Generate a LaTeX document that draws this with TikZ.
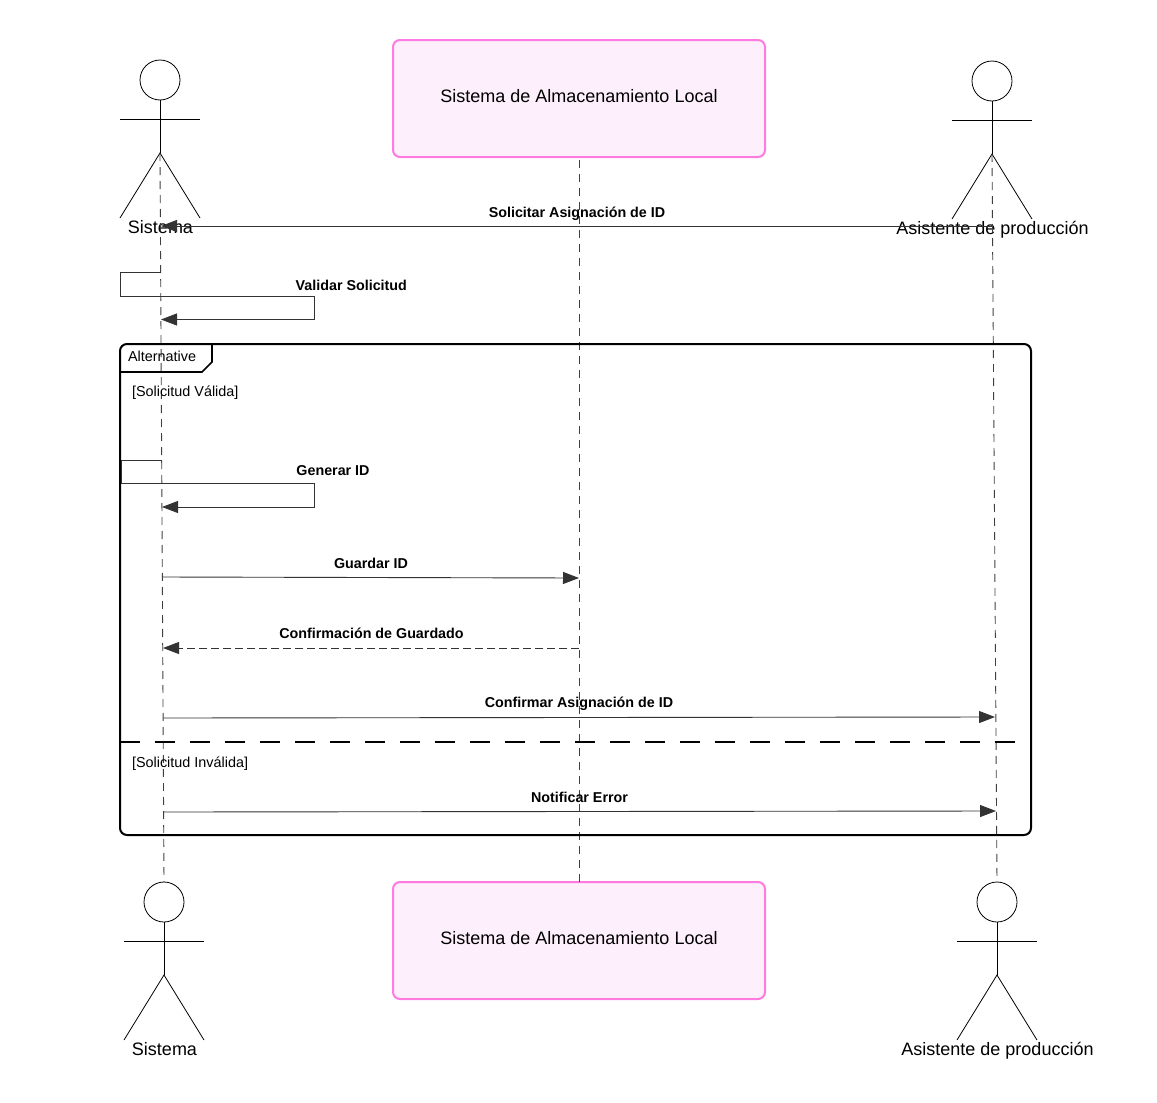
\documentclass[tikz,border=0pt]{standalone}
\usepackage{fontspec}
\setmainfont{Liberation Sans}
\usetikzlibrary{arrows.meta}
\definecolor{ink}{HTML}{333333}
\definecolor{pinkline}{HTML}{FF7BE0}
\definecolor{pinkfill}{HTML}{FDEFFB}
\tikzset{
  x=1pt,y=-1pt,
  every node/.style={inner sep=0pt,outer sep=0pt},
  stick/.style={draw=black,line width=0.8pt},
  head/.style={circle,draw=black,line width=0.8pt,minimum size=40pt},
  actorlabel/.style={font=\fontsize{18}{20}\selectfont,text=black},
  partbox/.style={draw=pinkline,fill=pinkfill,line width=2pt,rounded corners=7pt,minimum width=372pt,minimum height=117pt,font=\fontsize{18}{20}\selectfont},
  lifeline/.style={draw=black!75,line width=0.9pt,dash pattern=on 8pt off 6pt},
  msg/.style={draw=ink,line width=0.9pt,-{Triangle[length=16pt,width=12pt,fill=ink]}},
  msgdash/.style={msg,dash pattern=on 8pt off 4pt},
  msglabel/.style={font=\fontsize{14.3}{16}\selectfont\bfseries,text=black},
  framelabel/.style={font=\fontsize{14.4}{16}\selectfont,text=black},
  frameline/.style={draw=black,line width=2pt},
}
% name, x of centre, y of head centre, label, y of label
\newcommand{\stickfigure}[5]{%
  \node[head] (#1h) at (#2,#3) {};
  \coordinate (#1n) at (#2,#3+39);
  \coordinate (#1a) at (#2-40,#3+39);
  \coordinate (#1b) at (#2+40,#3+39);
  \coordinate (#1w) at (#2,#3+73);
  \coordinate (#1l) at (#2-40,#3+138);
  \coordinate (#1r) at (#2+40,#3+138);
  \draw[stick] (#1h.south) -- (#1w);
  \draw[stick] (#1a) -- (#1b);
  \draw[stick] (#1l) -- (#1w) -- (#1r);
  \node[actorlabel] (#1t) at (#2+0.5,#5) {#4};
}
\begin{document}
\begin{tikzpicture}
\useasboundingbox (0,0) rectangle (1157,1103);
\node[partbox] (boxtop) at (579,98.5) {\raisebox{-3.6pt}[0pt][0pt]{Sistema de Almacenamiento Local}};
\node[partbox] (boxbot) at (579,940.5) {\raisebox{-3.6pt}[0pt][0pt]{Sistema de Almacenamiento Local}};
\stickfigure{st}{160}{80}{Sistema}{227}
\stickfigure{at}{992}{81}{Asistente de producción}{229.5}
\stickfigure{sb}{164}{902}{Sistema}{1049}
\stickfigure{ab}{997}{902}{Asistente de producción}{1050.5}
\draw[lifeline] (stw) -- (sbh.north);
\draw[lifeline] (atw) -- (abh.north);
\draw[lifeline,dash phase=11pt] (boxtop.south) -- (boxbot.north);
% frame
\draw[frameline,rounded corners=7pt] (120,344) rectangle (1031,835);
\coordinate (tabA) at (120,372);
\coordinate (tabB) at (202,372);
\coordinate (tabC) at (212,362);
\coordinate (tabD) at (212,344);
\draw[frameline,line width=1.6pt] (tabA) -- (tabB) -- (tabC) -- (tabD);
\coordinate (divL) at (120,742);
\coordinate (divR) at (1031,742);
\draw[frameline,dash pattern=on 20pt off 15pt] (divL) -- (divR);
\node[framelabel,anchor=west] (alt) at (128,356) {Alternative};
\node[framelabel,anchor=west] (g1) at (132,392.5) {[Solicitud Válida]};
\node[framelabel,anchor=west] (g2) at (132,763.5) {[Solicitud Inválida]};
% messages
\coordinate (m1a) at (992,226); \coordinate (m1b) at (161,226);
\draw[msg] (m1a) -- (m1b);
\node[msglabel] (l1) at (577,213.5) {Solicitar Asignación de ID};
\coordinate (m2a) at (161,272); \coordinate (m2b) at (120.5,272); \coordinate (m2c) at (120.5,296);
\coordinate (m2d) at (314.5,296); \coordinate (m2e) at (314.5,319.5); \coordinate (m2f) at (161,319.5);
\draw[msg] (m2a) -- (m2b) -- (m2c) -- (m2d) -- (m2e) -- (m2f);
\node[msglabel] (l2) at (351.3,285) {Validar Solicitud};
\coordinate (m3a) at (161.5,460.5); \coordinate (m3b) at (121,460.5); \coordinate (m3c) at (121,483.5);
\coordinate (m3d) at (314.5,483.5); \coordinate (m3e) at (314.5,507); \coordinate (m3f) at (162,507);
\draw[msg] (m3a) -- (m3b) -- (m3c) -- (m3d) -- (m3e) -- (m3f);
\node[msglabel] (l3) at (333,471) {Generar ID};
\coordinate (m4a) at (162,577); \coordinate (m4b) at (579,578);
\draw[msg] (m4a) -- (m4b);
\node[msglabel] (l4) at (371,563) {Guardar ID};
\coordinate (m5a) at (579,648); \coordinate (m5b) at (163,648);
\draw[msgdash] (m5a) -- (m5b);
\node[msglabel] (l5) at (371.5,633) {Confirmación de Guardado};
\coordinate (m6a) at (163,718); \coordinate (m6b) at (995,717);
\draw[msg] (m6a) -- (m6b);
\node[msglabel] (l6) at (579,704) {Confirmar Asignación de ID};
\coordinate (m7a) at (164,812); \coordinate (m7b) at (996,811);
\draw[msg] (m7a) -- (m7b);
\node[msglabel] (l7) at (579.5,797) {Notificar Error};
\end{tikzpicture}
\end{document}
